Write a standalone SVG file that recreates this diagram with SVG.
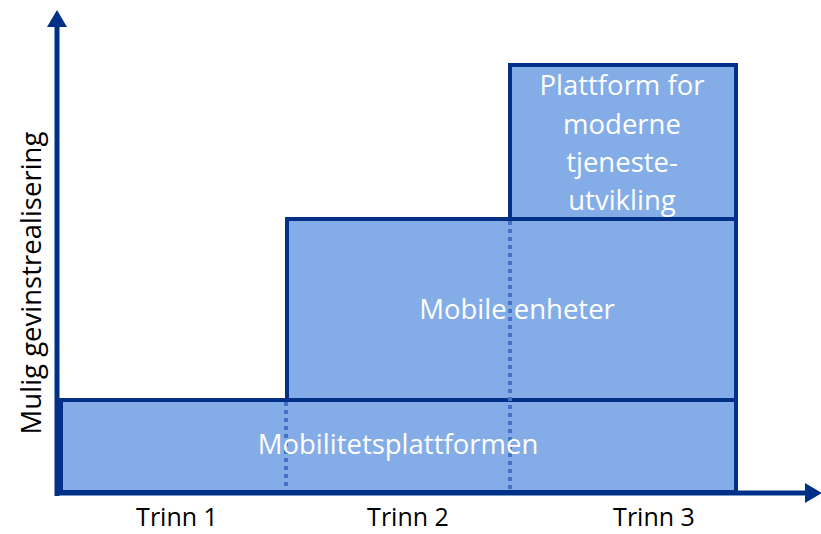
<svg xmlns="http://www.w3.org/2000/svg" width="821" height="534" viewBox="0 0 821 534">
<style>
.box{fill:#84ACE6;stroke:#003087;stroke-width:4}
.dot{stroke:#4472C4;stroke-width:4;stroke-dasharray:4 4;fill:none}
.lbl{font-family:"Open Sans","Liberation Sans",sans-serif;font-size:27.5px;fill:#fff;text-anchor:middle}
.ax{font-family:"Open Sans","Liberation Sans",sans-serif;font-size:25px;fill:#000;text-anchor:middle}
</style>
<rect width="821" height="534" fill="#fff"/>
<g id="n-mobilitetsplattformen">
<rect class="box" x="61" y="400" width="675" height="92"/>
</g>
<g id="n-mobile-enheter">
<rect class="box" x="287" y="219" width="449" height="181"/>
</g>
<g id="n-plattform">
<rect class="box" x="510" y="65" width="226" height="154"/>
</g>
<g id="connectors">
<line class="dot" x1="286" y1="402" x2="286" y2="490"/>
<line class="dot" x1="510" y1="221" x2="510" y2="490"/>
<line x1="57" y1="496" x2="57" y2="26" stroke="#003087" stroke-width="5"/>
<polygon points="57,10 47,27 67,27" fill="#003087"/>
<line x1="55" y1="493" x2="806" y2="493" stroke="#003087" stroke-width="5"/>
<polygon points="822,493 805,483 805,503" fill="#003087"/>
</g>
<g id="labels">
<text class="lbl" x="398" y="454">Mobilitetsplattformen</text>
<text class="lbl" x="517" y="319">Mobile enheter</text>
<text class="lbl" x="622" y="95">Plattform for</text>
<text class="lbl" x="622" y="134">moderne</text>
<text class="lbl" x="622" y="172">tjeneste-</text>
<text class="lbl" x="622" y="210">utvikling</text>
<text class="ax" x="177" y="526">Trinn 1</text>
<text class="ax" x="408" y="526">Trinn 2</text>
<text class="ax" x="654" y="526">Trinn 3</text>
<text class="lbl" style="fill:#000" transform="translate(41,283) rotate(-90)">Mulig gevinstrealisering</text>
</g>
</svg>
